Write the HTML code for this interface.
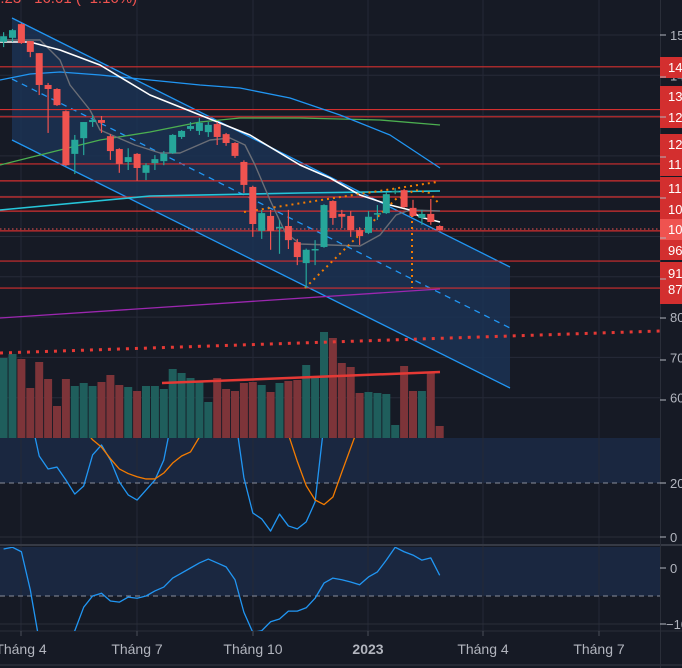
<!DOCTYPE html>
<html><head><meta charset="utf-8"><style>
html,body{margin:0;padding:0;background:#161a25;overflow:hidden}
svg{display:block;font-family:"Liberation Sans",sans-serif}
</style></head><body>
<svg id="c" width="682" height="668" viewBox="0 0 682 668">
<rect x="0" y="0" width="682" height="668" fill="#161a25"/>
<g id="grid"></g>
<g id="main"></g>
<g id="p2"></g>
<g id="p3"></g>
<g id="axis"></g>
<text x="-8" y="3" fill="#ef5350" font-size="15">1.23  −16.01 (−1.16%)</text>
</svg>
<script>
// ---- data ----
const opens  = [148.3,149.3,152.7,148.5,145.5,137.6,136.6,131.1,120.5,124.4,128.4,128.9,124.9,121.7,118.5,120.5,115.8,118.2,118.7,120.7,124.7,126.7,126.2,125.9,127.9,125.4,123.2,118.5,112.3,101.4,105.1,102.1,102.6,98.6,93.4,96.7,97.4,108.8,105.6,105.1,101.6,100.9,105.6,105.8,111.0,111.5,107.1,104.6,105.6,102.6];
const highs  = [150.7,151.5,152.9,148.5,145.5,138.1,136.8,131.3,125.2,128.4,130.1,129.9,125.4,121.9,121.9,120.7,118.2,120.2,121.2,125.4,126.4,128.4,129.4,128.4,128.4,125.7,123.4,118.9,112.6,106.6,106.6,104.1,106.6,99.4,97.0,99.1,108.0,109.0,106.6,106.3,102.3,106.3,107.8,111.0,112.0,111.8,109.1,106.6,109.3,102.8];
const lows   = [147.0,148.3,147.8,144.5,135.1,125.7,132.4,117.5,115.5,120.2,127.2,125.7,119.0,115.8,116.5,113.8,114.0,116.5,117.7,120.5,124.2,126.2,125.2,124.7,122.7,122.5,119.5,110.8,99.9,99.4,96.7,95.7,96.9,92.9,87.2,92.9,97.2,102.9,102.1,99.9,97.9,100.6,104.1,105.6,110.5,107.1,104.9,102.9,102.9,101.5];
const closes = [149.7,151.2,148.0,145.8,137.6,136.6,132.6,117.7,124.0,128.4,128.9,128.2,121.2,118.0,119.7,117.0,117.7,119.2,120.5,125.2,126.2,127.4,128.2,127.7,124.7,123.2,120.0,112.8,103.1,105.8,101.4,102.4,99.1,94.9,96.7,96.9,107.8,104.6,104.9,101.6,100.1,104.9,105.8,110.5,111.3,107.3,105.1,105.6,103.6,101.6];
const volumes = [80,84,79,50,76,59,32,59,52,55,52,56,63,53,51,47,52,52,49,69,65,60,56,36,60,49,47,55,56,53,46,55,57,58,73,62,106,100,75,71,45,46,45,44,13,72,47,47,65,12];
const oscK = [85,80,70,45,30,25.2,25.9,21.1,15.9,18.9,30.4,34.1,28.5,20.4,15.6,13.7,17.4,21.1,28.5,45,70,80,85,85,75,60,45,22,8.9,6.7,2.2,8.5,4.1,3.0,5.6,13.0,42,70,85,90,90,85,80,78,80,82,80,75,70,62];
const oscD = [70,68,65,60,55,50,47,44,42,40,36,33.3,29,25.2,23.5,22.3,21.5,21.5,23.7,27.4,30,31.5,37,43,55,62,60,55,50,46,43,41,38,28,19,13.7,12,14.8,24,33,42,52,60,66,70,72,74,76,76,75];
const momentum = [34,37,29,-39,-130,-150,-155,-135,-112,-70,-50,-45,-59,-61,-52,-54,-50,-41,-34,-18,-9,0,9,16,9,2,-21,-79,-115,-112,-96,-91,-77,-77,-71,-54,-27,-18,-21,-25,-30,-16,-7,14,37,29,23,14,18,-13];
const timeLabels = ["Tháng 4","Tháng 7","Tháng 10","2023","Tháng 4","Tháng 7"];
const timeTickX = [21,137,253,368,483,599];
const priceTicks = [150,140,130,120,110,100,90,80,70,60];
const levelPrices = [142.1,131.5,129.7,118.0,113.8,109.8,106.3,101.4,93.9,87.2];
const levelLabels = ["143.5","134.1","129.7","123.0","118.0","113.8","109.8","106.3","96.9","91.3","87.2"];

// ---- scales ----
const NS="http://www.w3.org/2000/svg";
const xAt = i => 3.6 + i*8.9;
const yP = p => 35 + (150-p)*4.03;
const yV = v => 438 - v;
const yK = v => 537 - v*2.7;
const yM = v => 568 - v*0.56;
function mk(tag, attrs, parent){const e=document.createElementNS(NS,tag);for(const k in attrs)e.setAttribute(k,attrs[k]);parent.appendChild(e);return e;}
const svg=document.getElementById('c');
const defs=mk('defs',{},svg);
const cp1=mk('clipPath',{id:'cMain'},defs);mk('rect',{x:0,y:0,width:660,height:438},cp1);
const cp2=mk('clipPath',{id:'cP2'},defs);mk('rect',{x:0,y:438,width:660,height:107},cp2);
const cp3=mk('clipPath',{id:'cP3'},defs);mk('rect',{x:0,y:547,width:660,height:84},cp3);

const grid=document.getElementById('grid');
const main=document.getElementById('main');main.setAttribute('clip-path','url(#cMain)');
const p2=document.getElementById('p2');p2.setAttribute('clip-path','url(#cP2)');
const p3=document.getElementById('p3');p3.setAttribute('clip-path','url(#cP3)');
const axis=document.getElementById('axis');

let r=mk('rect',{x:0,y:438,width:660,height:45,fill:'#1a2740'},grid);


r=mk('rect',{x:0,y:547,width:660,height:49,fill:'#1a2740'},grid);


priceTicks.forEach(p=>{const l=mk('line',{x1:0,x2:660,y1:yP(p),y2:yP(p),stroke:'#262b38','stroke-width':1},grid);

});
timeTickX.forEach(x=>{const l=mk('line',{x1:x,x2:x,y1:0,y2:631,stroke:'#242836','stroke-width':1},grid);

});
[[0,537,660,537,'#2a2e39'],[0,545,682,545,'#363a45'],[0,624,660,624,'#2a2e39'],[0,631,682,631,'#2a2e39'],[0,665,682,665,'#363a45']].forEach(a=>{const l=mk('line',{x1:a[0],y1:a[1],x2:a[2],y2:a[3],stroke:a[4],'stroke-width':a[1]==545?2:1},grid);

});
[483,596].forEach(y=>{const l=mk('line',{x1:0,x2:660,y1:y,y2:y,stroke:'#8a8f9c','stroke-dasharray':'5 4','stroke-width':1},grid);

});

let poly=mk('polygon',{points:'12,18 510,267 510,388 12,140',fill:'#1b3253','fill-opacity':0.85},main);


[['12,18','510,267','none'],['12,140','510,388','none'],['12,79','510,328','6 5']].forEach(a=>{const [x1,y1]=a[0].split(','),[x2,y2]=a[1].split(',');const l=mk('line',{x1,y1,x2,y2,stroke:'#2196f3','stroke-width':1.3,'stroke-dasharray':a[2]},main);

});

levelPrices.forEach(p=>{const l=mk('line',{x1:0,x2:660,y1:yP(p),y2:yP(p),stroke:'#d32f2f','stroke-width':1.2},main);

});
let cur=mk('line',{x1:0,x2:660,y1:229,y2:229,stroke:'#ef5350','stroke-dasharray':'1.5 2.5','stroke-width':1},main);



function pl(pts,stroke,w,name,parent,dash){const e=mk('polyline',{points:pts.map(p=>p.join(',')).join(' '),fill:'none',stroke:stroke,'stroke-width':w,'stroke-linejoin':'round'},parent);if(dash)e.setAttribute('stroke-dasharray',dash);

return e;}
pl([[0,318],[440,289]],'#9c27b0',1.3,'ma-purple',main);
pl([[0,210],[150,196],[300,193],[440,191]],'#26c6da',1.6,'ma-cyan',main);
pl([[0,165],[40,155],[100,140],[150,132],[200,122],[240,118],[300,118],[380,120],[440,125]],'#4caf50',1.3,'ma-green',main);
pl([[0,80],[30,74],[60,72],[100,75],[150,80],[200,85],[240,88],[290,98],[340,115],[390,135],[440,168]],'#2196f3',1.3,'ma-blue',main);
pl([[0,40],[40,40],[60,60],[70,85],[90,110],[100,130],[135,145],[160,153],[180,153],[210,140],[230,138],[245,145],[255,165],[270,200],[285,232],[300,244],[330,245],[360,246],[380,235],[396,215],[410,210],[440,211]],'#6b6e76',1.4,'ma-gray',main);
pl([[0,42],[30,42],[60,50],[100,65],[150,95],[200,115],[250,135],[300,165],[330,178],[360,195],[390,205],[410,210],[420,217],[440,222]],'#ffffff',1.6,'ma-white',main);
pl([[244,212],[437,182]],'#f57c00',2,'triangle-upper',main,'2 4');
pl([[305,288],[398,197]],'#f57c00',2,'triangle-lower',main,'2 4');
pl([[412,215],[412,288]],'#f57c00',2,'triangle-height',main,'2 4');
pl([[400,198],[415,190],[430,193],[440,205]],'#f57c00',2,'triangle-marker',main,'2 4');

volumes.forEach((v,i)=>{const up=closes[i]>=opens[i];const b=mk('rect',{x:xAt(i)-4,y:yV(v),width:8,height:v,fill:up?'#1f5e5c':'#7d3439'},main);

});
pl([[0,353],[660,331]],'#e53935',3,'volume-ma',main,'3 6');
pl([[162,383],[440,372]],'#e53935',2.5,'volume-trendline',main);

opens.forEach((o,i)=>{const c=closes[i],up=c>=o,col=up?'#26a69a':'#ef5350',x=xAt(i);
const w=mk('line',{x1:x,x2:x,y1:yP(highs[i]),y2:yP(lows[i]),stroke:col,'stroke-width':1.2},main);


const top=yP(Math.max(o,c)),bot=yP(Math.min(o,c));
const b=mk('rect',{x:x-3.5,y:top,width:7,height:Math.max(1.5,bot-top),fill:col},main);

});

pl(oscK.map((v,i)=>[xAt(i),yK(v)]),'#2196f3',1.3,'oscillator-k-line',p2);
pl(oscD.map((v,i)=>[xAt(i),yK(v)]),'#f57c00',1.3,'oscillator-d-line',p2);
pl(momentum.map((v,i)=>[xAt(i),yM(v)]),'#2196f3',1.3,'momentum-line',p3);

let al=mk('line',{x1:660.5,x2:660.5,y1:0,y2:668,stroke:'#2a2e39','stroke-width':1},axis);


priceTicks.forEach(p=>{const t=mk('text',{x:670,y:yP(p)+5,fill:'#b2b5be','font-size':13},axis);t.textContent=p.toFixed(1);

});
const boxes=[[57,21],[86,42],[134,42],[177,42],[240,20],[262,42]];
boxes.forEach(b=>{const e=mk('rect',{x:660,y:b[0],width:22,height:b[1],fill:'#d32f2f'},axis);

});
let cb=mk('rect',{x:660,y:219,width:22,height:21,fill:'#ef5350'},axis);


const lvlY=[67,96,117,144,164,188,209,229,250,273,289];
lvlY.forEach((y,i)=>{const t=mk('text',{x:668,y:y+5,fill:'#ffffff','font-size':13},axis);t.textContent=levelLabels[i];

});
[[483,'20'],[537,'0'],[568,'0'],[624,'−100']].forEach(a=>{const t=mk('text',{x:a[1].length>2?666:670,y:a[0]+5,fill:'#b2b5be','font-size':13},axis);t.textContent=a[1];

});
[35,77,117,157,198,238,279,318,360,400,483,537,568,624].forEach(y=>{const l=mk('line',{x1:660,x2:666,y1:y,y2:y,stroke:'#b2b5be','stroke-width':1},axis);

});
timeLabels.forEach((s,i)=>{const t=mk('text',{x:timeTickX[i],y:654,fill:'#b2b5be','font-size':14,'text-anchor':'middle','font-weight':s==='2023'?'bold':'normal'},axis);t.textContent=s;


const tk=mk('line',{x1:timeTickX[i],x2:timeTickX[i],y1:631,y2:636,stroke:'#4a4e59'},axis);

});
</script>
</body></html>
